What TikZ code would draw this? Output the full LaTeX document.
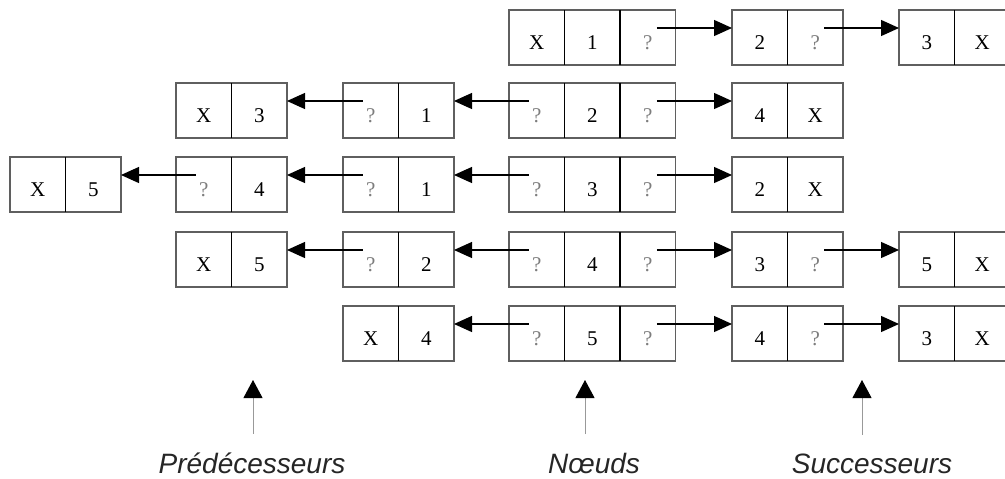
\documentclass[tikz,border=0pt]{standalone}
\usepackage{fontspec}
\setmainfont{Liberation Serif}
\newfontfamily\labfont{Liberation Sans}
\usetikzlibrary{arrows.meta}
\definecolor{qgray}{RGB}{125,125,125}
\definecolor{bordergray}{RGB}{95,95,95}
\tikzset{
  outerbox/.style={draw=bordergray, line width=1.8pt, minimum height=55pt, inner sep=0pt, outer sep=0pt},
  cell/.style={minimum width=55.5pt, minimum height=55pt, inner sep=0pt, outer sep=0pt, text height=24pt, text depth=0pt, font=\fontsize{21}{24}\selectfont},
  divider/.style={draw=black, line width=1.3pt},
  link/.style={draw=black, line width=1.2pt, -{Triangle[length=18pt,width=16pt]}},
  uparrow/.style={draw=gray!80, line width=1pt, -{Triangle[length=18pt,width=19pt,color=black]}},
  lab/.style={font=\labfont\itshape\fontsize{28}{30}\selectfont, text=black!85, anchor=base}
}
\newcommand\q{{\color{qgray}?}}
\newcommand\boxtwo[5]{%
  \node[outerbox, minimum width=111pt] (#1) at ({#2+55.5},{#3+27.5}) {};
  \node[cell, anchor=west] (#1-1) at (#1.west) {#4};
  \node[cell, anchor=west] (#1-2) at (#1-1.east) {#5};
  \draw[divider] (#1-1.north east) -- (#1-1.south east);
}
\newcommand\boxthree[6]{%
  \node[outerbox, minimum width=166.5pt] (#1) at ({#2+83.25},{#3+27.5}) {};
  \node[cell, anchor=west] (#1-1) at (#1.west) {#4};
  \node[cell, anchor=west] (#1-2) at (#1-1.east) {#5};
  \node[cell, anchor=west] (#1-3) at (#1-2.east) {#6};
  \draw[divider] (#1-1.north east) -- (#1-1.south east);
  \draw[divider] (#1-2.north east) -- (#1-2.south east);
}
\newcommand\rlink[2]{\draw[link] ([shift={(9,-9.5)}]#1.center) -- ([shift={(0,-9.5)}]#2.west);}
\newcommand\llink[2]{\draw[link] ([shift={(-8,-9.5)}]#1.center) -- ([shift={(0,-9.5)}]#2.east);}
\begin{document}
\begin{tikzpicture}[x=1pt,y=-1pt]
\useasboundingbox[fill=white] (0,0) rectangle (1005,479);
% row 1
\boxthree{a1}{509}{10}{X}{1}{\q}
\boxtwo{b1}{732}{10}{2}{\q}
\boxtwo{c1}{899}{10}{3}{X}
\rlink{a1-3}{b1}
\rlink{b1-2}{c1}
% row 2
\boxtwo{p2a}{176}{83}{X}{3}
\boxtwo{p2b}{343}{83}{\q}{1}
\boxthree{n2}{509}{83}{\q}{2}{\q}
\boxtwo{s2}{732}{83}{4}{X}
\llink{p2b-1}{p2a}
\llink{n2-1}{p2b}
\rlink{n2-3}{s2}
% row 3
\boxtwo{p3a}{10}{157}{X}{5}
\boxtwo{p3b}{176}{157}{\q}{4}
\boxtwo{p3c}{343}{157}{\q}{1}
\boxthree{n3}{509}{157}{\q}{3}{\q}
\boxtwo{s3}{732}{157}{2}{X}
\llink{p3b-1}{p3a}
\llink{p3c-1}{p3b}
\llink{n3-1}{p3c}
\rlink{n3-3}{s3}
% row 4
\boxtwo{p4a}{176}{232}{X}{5}
\boxtwo{p4b}{343}{232}{\q}{2}
\boxthree{n4}{509}{232}{\q}{4}{\q}
\boxtwo{s4a}{732}{232}{3}{\q}
\boxtwo{s4b}{899}{232}{5}{X}
\llink{p4b-1}{p4a}
\llink{n4-1}{p4b}
\rlink{n4-3}{s4a}
\rlink{s4a-2}{s4b}
% row 5
\boxtwo{p5a}{343}{306}{X}{4}
\boxthree{n5}{509}{306}{\q}{5}{\q}
\boxtwo{s5a}{732}{306}{4}{\q}
\boxtwo{s5b}{899}{306}{3}{X}
\llink{n5-1}{p5a}
\rlink{n5-3}{s5a}
\rlink{s5a-2}{s5b}
% labels
\node[lab] (lp) at (252,473) {Prédécesseurs};
\node[lab] (ln) at (594,473) {Nœuds};
\node[lab] (ls) at (872,473) {Successeurs};
\coordinate (tp) at (253,380);
\coordinate (tn) at (585,380);
\coordinate (ts) at (862,380);
\draw[uparrow] (lp.north -| tp) ++(0,-15) -- (tp);
\draw[uparrow] (ln.north -| tn) ++(0,-15) -- (tn);
\draw[uparrow] (ls.north -| ts) ++(0,-15) -- (ts);
\end{tikzpicture}
\end{document}
